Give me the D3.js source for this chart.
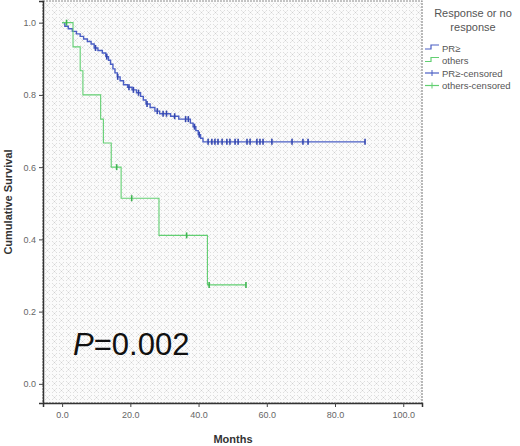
<!DOCTYPE html>
<html>
<head>
<meta charset="utf-8">
<script src="https://cdn.jsdelivr.net/npm/d3@7"></script>
<style>
body { margin: 0; background: #fff; }
svg { display: block; font-family: Arial, "Liberation Sans", sans-serif; }
</style>
</head>
<body>
<script>
// survival curves
var seriesNames = ['PR\u2265', 'others'];

var prTimes = [0.8, 1.8, 3.0, 4.2, 5.3, 6.3, 7.4, 8.5, 9.4, 10.5, 11.8, 12.8, 13.6, 14.2, 14.9, 15.5, 16.2, 17.0, 18.0, 19.2, 20.5, 21.8, 23.0, 23.8, 24.6, 25.8, 27.2, 28.6, 31.8, 34.2, 37.6, 38.4, 39.2, 39.9, 40.6, 41.3];
var prSurv = [0.990, 0.983, 0.976, 0.969, 0.962, 0.955, 0.948, 0.941, 0.930, 0.923, 0.916, 0.906, 0.896, 0.885, 0.872, 0.861, 0.850, 0.839, 0.828, 0.821, 0.814, 0.806, 0.796, 0.786, 0.775, 0.765, 0.755, 0.748, 0.741, 0.733, 0.722, 0.712, 0.701, 0.690, 0.680, 0.670];
var prCensored = [9.8, 13.1, 16.3, 19.6, 20.9, 22.4, 24.9, 27.9, 29.6, 30.6, 33.0, 36.2, 37.0, 38.8, 40.2, 42.8, 43.9, 44.8, 45.7, 46.9, 48.3, 49.2, 50.7, 51.6, 54.2, 55.1, 57.1, 58.0, 58.9, 61.5, 67.4, 70.6, 72.1, 88.8];

var otherTimes = [3.2, 5.3, 6.1, 11.3, 12.1, 14.4, 17.3, 28.4, 42.6];
var otherSurv = [0.933, 0.867, 0.800, 0.733, 0.667, 0.600, 0.514, 0.411, 0.274];
var otherCensored = [1.3, 16.0, 20.4, 36.5, 43.1, 53.9];

var xTicks = [0, 20, 40, 60, 80, 100];
var yTicks = [0, 0.2, 0.4, 0.6, 0.8, 1.0];

var blue = '#4a5ec4', blueDark = '#3447b0', green = '#62cf72';

var svg = d3.select('body').append('svg').attr('width', 520).attr('height', 446);

var x = d3.scaleLinear().domain([-5.6, 105.5]).range([43, 422]);
var y = d3.scaleLinear().domain([-0.053, 1.06]).range([403, 1]);

// background pattern like the SPSS chart
var defs = svg.append('defs');
var pat = defs.append('pattern').attr('id', 'bg').attr('patternUnits', 'userSpaceOnUse')
	.attr('width', 7).attr('height', 7);
pat.append('rect').attr('width', 7).attr('height', 7).attr('fill', '#fbfbfb');
[0, 3].forEach(i => {
	[0, 3].forEach(j => {
		pat.append('rect').attr('x', i).attr('y', j).attr('width', 1).attr('height', 1).attr('fill', '#dedede');
	});
});
pat.append('path').attr('d', 'M4.5,4.5L6.5,6.5M6.5,4.5L4.5,6.5').attr('stroke', '#cdcdcd').attr('stroke-width', 0.8);

svg.append('rect')
	.attr('x', 43).attr('y', 1).attr('width', 379).attr('height', 402)
	.attr('fill', 'url(#bg)')
	.attr('stroke', '#8a8a8a').attr('stroke-width', 1.2).attr('stroke-dasharray', '2,1');

// axes
var yAxis = d3.axisLeft(y).tickValues(yTicks).tickFormat(d3.format('.1f')).tickSize(4).tickPadding(3);
var gy = svg.append('g').attr('transform', 'translate(43,0)').call(yAxis);
var xAxis = d3.axisBottom(x).tickValues(xTicks).tickFormat(d3.format('.1f')).tickSize(4).tickPadding(5);
var gx = svg.append('g').attr('transform', 'translate(0,403)').call(xAxis);
[gx, gy].forEach(g => {
	g.select('.domain').attr('stroke', '#333').attr('stroke-width', 1.5);
	g.selectAll('.tick line').attr('stroke', '#444');
	g.selectAll('.tick text').attr('fill', '#666').attr('font-size', 9);
});

svg.append('text')
	.attr('transform', 'translate(12,202) rotate(-90)')
	.attr('text-anchor', 'middle')
	.attr('font-size', 11).attr('font-weight', 'bold').attr('fill', '#333')
	.text('Cumulative Survival');
svg.append('text')
	.attr('x', 233).attr('y', 443)
	.attr('text-anchor', 'middle')
	.attr('font-size', 11).attr('font-weight', 'bold').attr('fill', '#333')
	.text('Months');

// curves
var line = d3.line().x(d => x(d[0])).y(d => y(d[1])).curve(d3.curveStepAfter);

function stepPoints(times, surv, lastTime) {
	var pts = [[0, 1]];
	times.forEach((t, i) => pts.push([t, surv[i]]));
	pts.push([lastTime, surv[surv.length - 1]]);
	return pts;
}
function survAt(times, surv, t) {
	var s = 1;
	times.forEach((tt, i) => { if (tt <= t) s = surv[i]; });
	return s;
}

var curves = [
	{ times: prTimes, surv: prSurv, cens: prCensored, color: blue, mark: blueDark, w: 1.4 },
	{ times: otherTimes, surv: otherSurv, cens: otherCensored, color: green, mark: '#3fb552', w: 1.1 }
];

curves.forEach(c => {
	svg.append('path')
		.datum(stepPoints(c.times, c.surv, d3.max(c.cens)))
		.attr('d', line)
		.attr('fill', 'none')
		.attr('stroke', c.color)
		.attr('stroke-width', c.w);
	svg.selectAll(null)
		.data(c.cens)
		.enter().append('line')
			.attr('x1', d => x(d))
			.attr('x2', d => x(d))
			.attr('y1', d => y(survAt(c.times, c.surv, d)) - 3)
			.attr('y2', d => y(survAt(c.times, c.surv, d)) + 3)
			.attr('stroke', c.mark)
			.attr('stroke-width', 1.6);
});

// P value
var pt = svg.append('text').attr('x', 73).attr('y', 355)
	.attr('font-size', 31).attr('fill', '#111');
pt.append('tspan').attr('font-style', 'italic').text('P');
pt.append('tspan').text('=0.002');

// legend
svg.append('text').attr('x', 473).attr('y', 17).attr('text-anchor', 'middle')
	.attr('font-size', 11).attr('fill', '#555').text('Response or no');
svg.append('text').attr('x', 473).attr('y', 31).attr('text-anchor', 'middle')
	.attr('font-size', 11).attr('fill', '#555').text('response');

var legendItems = [
	{ label: seriesNames[0], color: blue, censor: false },
	{ label: seriesNames[1], color: green, censor: false },
	{ label: seriesNames[0] + '-censored', color: blue, censor: true },
	{ label: seriesNames[1] + '-censored', color: green, censor: true }
];
var lg = svg.selectAll('g.leg')
	.data(legendItems)
	.enter().append('g')
		.attr('class', 'leg')
		.attr('transform', (d, i) => 'translate(425,' + (48 + i * 12.5) + ')');
lg.append('path')
	.attr('d', d => d.censor ? 'M0,0H14' : 'M0,1H6V-3H14')
	.attr('fill', 'none').attr('stroke', d => d.color).attr('stroke-width', 1.2);
lg.filter(d => d.censor).append('line')
	.attr('x1', 7).attr('x2', 7).attr('y1', -3).attr('y2', 3)
	.attr('stroke', d => d.color).attr('stroke-width', 1);
lg.append('text')
	.attr('x', 17).attr('y', 3.5)
	.attr('font-size', 9.5).attr('fill', '#555')
	.text(d => d.label);
</script>
</body>
</html>
